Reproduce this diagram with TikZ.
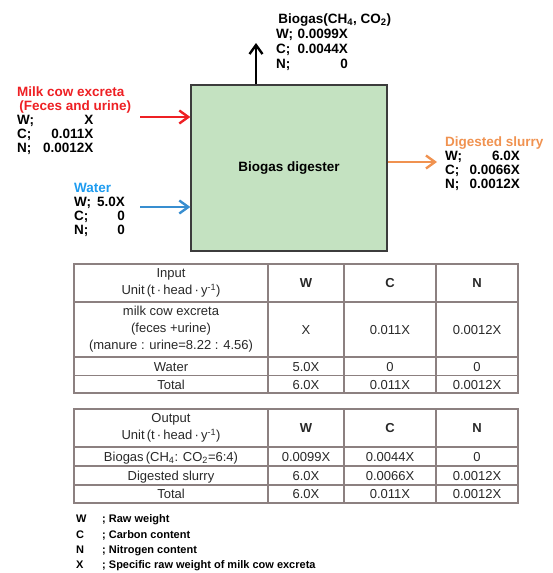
\documentclass[tikz,border=0pt]{standalone}
\usepackage{fontspec}
\setmainfont{Liberation Sans}
\usetikzlibrary{arrows.meta}

\definecolor{milkred}{RGB}{238,32,36}
\definecolor{waterblue}{RGB}{30,156,240}
\definecolor{waterarrow}{RGB}{56,142,208}
\definecolor{slurryorange}{RGB}{240,146,80}
\definecolor{digfill}{RGB}{196,226,193}
\definecolor{boxgray}{RGB}{60,60,60}
\definecolor{gridgray}{RGB}{140,128,128}
\definecolor{tabtext}{RGB}{40,40,40}

\begin{document}
\begin{tikzpicture}[
    x = 1pt, y = -1pt,
    digester/.style = {
        rectangle, draw = boxgray, line width = 1.3pt, fill = digfill,
        minimum width = 196pt, minimum height = 166pt,
        font = \fontsize{13.5}{14}\selectfont\bfseries
    },
    flowlabel/.style = {
        inner sep = 0pt, anchor = north west, align = left,
        font = \fontsize{13.5}{14}\selectfont\bfseries
    },
    flow/.style = {line width = 2.4pt, -{Straight Barb[length=9pt, width=13pt]}},
    grid/.style = {draw = gridgray, line width = 1.1pt},
    cell/.style = {
        inner sep = 0pt, text = tabtext, text height = 9.4pt, text depth = 0pt,
        font = \fontsize{13}{17}\selectfont
    },
    cellmulti/.style = {
        inner sep = 0pt, align = center, text = tabtext,
        font = \fontsize{13}{17}\selectfont
    },
    legend/.style = {
        inner sep = 0pt, anchor = north west,
        font = \fontsize{11}{15.3}\selectfont\bfseries
    }
]
\useasboundingbox (0,0) rectangle (552,573);

% --- Digester and flows ---
\node[digester] (dig) at (289,168) {Biogas digester};

\coordinate (milkin)    at (140,117);
\coordinate (waterin)   at (140,207);
\coordinate (slurryout) at (437,162);
\coordinate (gasout)    at (256,43);

\draw[flow, milkred]      (milkin) -- (milkin -| dig.west);
\draw[flow, waterarrow]   (waterin) -- (waterin -| dig.west);
\draw[flow, slurryorange] (slurryout -| dig.east) -- (slurryout);
\draw[flow, black]        (gasout |- dig.north) -- (gasout);

% --- Flow labels (titles in \rlap so they do not widen the value column) ---
\node[flowlabel] (milklbl) at (17,86) {%
    \begin{tabular}{@{}l@{\hspace{9pt}}r@{}}
    \multicolumn{2}{@{}l@{}}{\rlap{\color{milkred}Milk cow excreta}}\\
    \multicolumn{2}{@{}l@{}}{\rlap{\color{milkred}\,(Feces and urine)}}\\
    W; & X\\
    C; & 0.011X\\
    N; & 0.0012X
    \end{tabular}};

\node[flowlabel] (waterlbl) at (74,182) {%
    \begin{tabular}{@{}l@{\hspace{6pt}}r@{}}
    \multicolumn{2}{@{}l@{}}{\rlap{\color{waterblue}Water}}\\
    W; & 5.0X\\
    C; & 0\\
    N; & 0
    \end{tabular}};

\node[flowlabel, font = \fontsize{13.5}{15}\selectfont\bfseries] (gaslbl) at (276,13) {%
    \begin{tabular}{@{}l@{\hspace{4.5pt}}r@{}}
    \multicolumn{2}{@{}l@{}}{\rlap{\,Biogas(CH\textsubscript{4}, CO\textsubscript{2})}}\\
    W; & 0.0099X\\
    C; & 0.0044X\\
    N; & 0
    \end{tabular}};

\node[flowlabel] (slurrylbl) at (445,136) {%
    \begin{tabular}{@{}l@{\hspace{7.5pt}}r@{}}
    \multicolumn{2}{@{}l@{}}{\rlap{\color{slurryorange}Digested slurry}}\\
    W; & 6.0X\\
    C; & 0.0066X\\
    N; & 0.0012X
    \end{tabular}};

% --- Input table ---
\draw[grid] (74,264) rectangle (518,393);
\foreach \y in {302,357,375.5} \draw[grid] (74,\y) -- (518,\y);
\foreach \x in {268,344,436} \draw[grid] (\x,264) -- (\x,393);

\node[cellmulti] (inhead) at (171,283) {Input\\Unit\,(t\,·\,head\,·\,y\textsuperscript{-1})};
\node[cell] (inw) at (306,283) {\bfseries W};
\node[cell] (inc) at (390,283) {\bfseries C};
\node[cell] (inn) at (477,283) {\bfseries N};

\node[cellmulti] (inmilk) at (171,329.5) {milk cow excreta\\(feces +urine)\\(manure : urine=8.22 : 4.56)};
\node[cell] (inmilkw) at (306,329.5) {X};
\node[cell] (inmilkc) at (390,329.5) {0.011X};
\node[cell] (inmilkn) at (477,329.5) {0.0012X};

\node[cell] (inwater)  at (171,366.3) {Water};
\node[cell] (inwaterw) at (306,366.3) {5.0X};
\node[cell] (inwaterc) at (390,366.3) {0};
\node[cell] (inwatern) at (477,366.3) {0};

\node[cell] (intotal)  at (171,384.3) {Total};
\node[cell] (intotalw) at (306,384.3) {6.0X};
\node[cell] (intotalc) at (390,384.3) {0.011X};
\node[cell] (intotaln) at (477,384.3) {0.0012X};

% --- Output table ---
\draw[grid] (74,409) rectangle (518,503);
\foreach \y in {447,466,485} \draw[grid] (74,\y) -- (518,\y);
\foreach \x in {268,344,436} \draw[grid] (\x,409) -- (\x,503);

\node[cellmulti] (outhead) at (171,428) {Output\\Unit\,(t\,·\,head\,·\,y\textsuperscript{-1})};
\node[cell] (outw) at (306,428) {\bfseries W};
\node[cell] (outc) at (390,428) {\bfseries C};
\node[cell] (outn) at (477,428) {\bfseries N};

\node[cell] (outgas)  at (171,456.5) {Biogas\,(CH\textsubscript{4}: CO\textsubscript{2}=6:4)};
\node[cell] (outgasw) at (306,456.5) {0.0099X};
\node[cell] (outgasc) at (390,456.5) {0.0044X};
\node[cell] (outgasn) at (477,456.5) {0};

\node[cell] (outslurry)  at (171,475.5) {Digested slurry};
\node[cell] (outslurryw) at (306,475.5) {6.0X};
\node[cell] (outslurryc) at (390,475.5) {0.0066X};
\node[cell] (outslurryn) at (477,475.5) {0.0012X};

\node[cell] (outtotal)  at (171,494) {Total};
\node[cell] (outtotalw) at (306,494) {6.0X};
\node[cell] (outtotalc) at (390,494) {0.011X};
\node[cell] (outtotaln) at (477,494) {0.0012X};

% --- Legend ---
\node[legend] (key) at (76,512) {%
    \begin{tabular}{@{}p{26pt}@{}l@{}}
    W & ; Raw weight\\
    C & ; Carbon content\\
    N & ; Nitrogen content\\
    X & ; Specific raw weight of milk cow excreta
    \end{tabular}};

\end{tikzpicture}
\end{document}
